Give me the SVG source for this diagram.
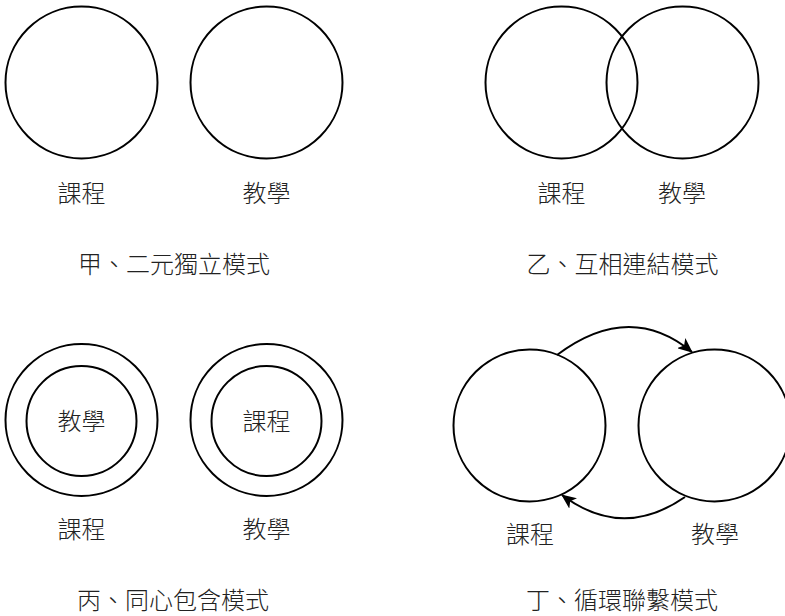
<svg xmlns="http://www.w3.org/2000/svg" width="785" height="616" viewBox="0 0 785 616">
<defs>
<style>
.c{fill:none;stroke:#000;stroke-width:2}
.t{font-family:"Noto Sans CJK TC","Noto Sans CJK SC",sans-serif;font-size:24px;font-weight:300;fill:#222;text-anchor:middle;dominant-baseline:central}
.e{fill:none;stroke:#000;stroke-width:2}
</style>
<marker id="arr" markerUnits="userSpaceOnUse" markerWidth="15" markerHeight="13" viewBox="0 0 15 13" refX="14" refY="6.5" orient="auto">
<path d="M0,0 L15,6.5 L0,13 L3.75,6.5 Z" fill="#000"/>
</marker>
</defs>
<g id="panel-a">
<g id="a-course"><circle class="c" cx="81.5" cy="82.5" r="76"/><text class="t" x="81.5" y="191">課程</text></g>
<g id="a-teach"><circle class="c" cx="266.5" cy="82.5" r="76"/><text class="t" x="266.5" y="191">教學</text></g>
<text class="t" x="174" y="262.5">甲、二元獨立模式</text>
</g>
<g id="panel-b">
<g id="b-course"><circle class="c" cx="561.5" cy="82.5" r="76"/><text class="t" x="561.5" y="191">課程</text></g>
<g id="b-teach"><circle class="c" cx="682.5" cy="82.5" r="76"/><text class="t" x="682" y="191">教學</text></g>
<text class="t" x="622.5" y="262.5">乙、互相連結模式</text>
</g>
<g id="panel-c">
<g id="c-course-outer"><circle class="c" cx="81.5" cy="420" r="76"/><text class="t" x="81.5" y="527">課程</text></g>
<g id="c-teach-inner"><circle class="c" cx="81.5" cy="421" r="55"/><text class="t" x="81.5" y="419">教學</text></g>
<g id="c-teach-outer"><circle class="c" cx="266.5" cy="420" r="76"/><text class="t" x="266.5" y="527">教學</text></g>
<g id="c-course-inner"><circle class="c" cx="266.5" cy="421" r="55"/><text class="t" x="266.5" y="419">課程</text></g>
<text class="t" x="173" y="598">丙、同心包含模式</text>
</g>
<g id="panel-d">
<g id="d-course"><circle class="c" cx="529.5" cy="425.5" r="76"/><text class="t" x="530" y="532.5">課程</text></g>
<g id="d-teach"><circle class="c" cx="714.5" cy="425.5" r="76"/><text class="t" x="715" y="532.5">教學</text></g>
<text class="t" x="622" y="598">丁、循環聯繫模式</text>
</g>
<g id="connectors">
<path class="e" d="M557,355 Q629.5,300.5 692,352" marker-end="url(#arr)"/>
<path class="e" d="M685,497 Q622.5,540.5 562,495" marker-end="url(#arr)"/>
</g>
</svg>
